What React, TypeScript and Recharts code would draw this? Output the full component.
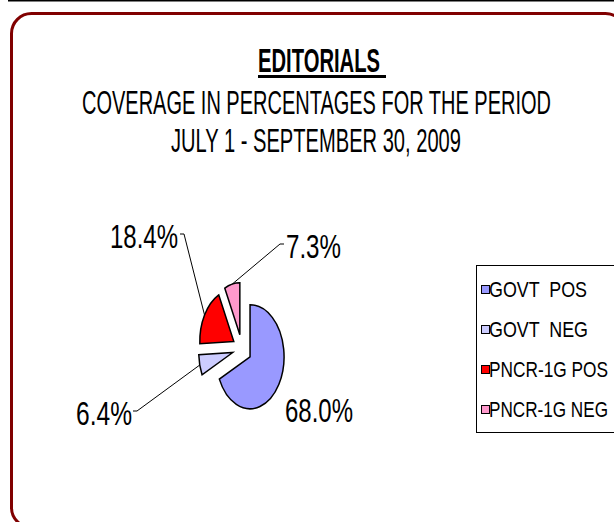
import { Legend, Pie, PieChart } from "recharts";

// slice order follows the reference: starts at 12 o'clock, goes clockwise
const categories = ["GOVT  POS", "GOVT  NEG", "PNCR-1G POS", "PNCR-1G NEG"];
const shares = [68.0, 6.4, 18.4, 7.3];
const sliceColors = ["#9999FF", "#CCCCFF", "#FF0000", "#FF99CC"];

const titleText = "EDITORIALS";
const subtitleLines = [
  "COVERAGE IN PERCENTAGES FOR THE PERIOD",
  "JULY 1 - SEPTEMBER 30, 2009",
];

const data = categories.map((name, i) => ({
  name,
  value: shares[i],
  fill: sliceColors[i],
}));

const W = 614;
const H = 522;
const FONT = "'Liberation Sans Narrow', 'Liberation Sans', Arial, sans-serif";
const RAD = Math.PI / 180;

// the pie is drawn as an ellipse, taller than wide, with every slice pulled out
const PIE_CX = 242;
const PIE_CY = 349;
const PIE_R = 52;
const X_SQUASH = 0.654;
const EXPLODE = 0.28;

// hand placed labels (relative to pie centre), like the dragged Excel labels
const labelLayout = [
  { x: 43, y: 73, w: 68, leader: null },
  { x: -166, y: 76, w: 56, leader: [[-105, 62], [-109, 62]] },
  { x: -132, y: -101, w: 68, leader: [[-58, -115], [-62, -115]] },
  { x: 44, y: -91, w: 55, leader: [[38, -105], [42, -105]] },
];

const legendTextWidth = [98, 99, 119, 119];

function slicePivot(cx: number, cy: number, r: number, mid: number) {
  const rx = r * X_SQUASH;
  return {
    ox: cx + EXPLODE * rx * Math.cos(mid * RAD),
    oy: cy - EXPLODE * r * Math.sin(mid * RAD),
    rx,
    ry: r,
  };
}

function ExplodedSlice(props: any) {
  const { cx, cy, outerRadius, startAngle, endAngle, fill } = props;
  const mid = (startAngle + endAngle) / 2;
  const { ox, oy, rx, ry } = slicePivot(cx, cy, outerRadius, mid);
  const x1 = ox + rx * Math.cos(startAngle * RAD);
  const y1 = oy - ry * Math.sin(startAngle * RAD);
  const x2 = ox + rx * Math.cos(endAngle * RAD);
  const y2 = oy - ry * Math.sin(endAngle * RAD);
  const large = Math.abs(endAngle - startAngle) > 180 ? 1 : 0;
  const sweep = startAngle > endAngle ? 1 : 0;
  return (
    <path
      d={`M${ox},${oy} L${x1},${y1} A${rx},${ry} 0 ${large} ${sweep} ${x2},${y2} Z`}
      fill={fill}
      stroke="#000"
      strokeWidth={1.5}
      strokeLinejoin="miter"
    />
  );
}

function SliceLabel(props: any) {
  const { cx, cy, outerRadius, midAngle, index, value } = props;
  const lay = labelLayout[index];
  if (!lay) return null;
  const { ox, oy, rx, ry } = slicePivot(cx, cy, outerRadius, midAngle);
  const ax = ox + rx * Math.cos(midAngle * RAD);
  const ay = oy - ry * Math.sin(midAngle * RAD);
  return (
    <g>
      {lay.leader && (
        <polyline
          points={[[ax - cx, ay - cy], ...lay.leader]
            .map(([x, y]) => `${cx + x},${cy + y}`)
            .join(" ")}
          fill="none"
          stroke="#000"
          strokeWidth={1}
        />
      )}
      <text
        x={cx + lay.x}
        y={cy + lay.y}
        fontFamily={FONT}
        fontSize={33}
        fill="#000"
        textLength={lay.w}
        lengthAdjust="spacingAndGlyphs"
      >
        {`${Number(value).toFixed(1)}%`}
      </text>
    </g>
  );
}

function LegendBox() {
  // keep the data order (recharts sorts legend payload by name otherwise)
  return (
    <svg width={138} height={170} style={{ display: "block", overflow: "visible" }}>
      <rect x={0.5} y={0.5} width={150} height={167} fill="#fff" stroke="#000" strokeWidth={1} />
      {data.map((it, i) => {
        const base = 32 + i * 40;
        return (
          <g key={it.name}>
            <rect x={5.5} y={base - 11.5} width={8} height={8} fill={it.fill} stroke="#000" strokeWidth={1} />
            <text
              x={13}
              y={base}
              fontFamily={FONT}
              fontSize={22}
              fill="#000"
              textLength={legendTextWidth[i]}
              lengthAdjust="spacingAndGlyphs"
              style={{ whiteSpace: "pre" }}
            >
              {it.name}
            </text>
          </g>
        );
      })}
    </svg>
  );
}

export default function App() {
  return (
    <div style={{ position: "absolute", left: 0, top: 0, width: W, height: H, background: "#fff", overflow: "hidden" }}>
      <PieChart width={W} height={H} margin={{ top: 0, right: 0, bottom: 0, left: 0 }}>
        <rect x={8} y={0} width={606} height={1.5} fill="#000" />
        <rect
          x={11.5}
          y={13.5}
          width={614}
          height={514}
          rx={20}
          ry={20}
          fill="none"
          stroke="#800000"
          strokeWidth={3}
        />
        <text
          x={258}
          y={72}
          fontFamily={FONT}
          fontWeight="bold"
          fontSize={33}
          fill="#000"
          textLength={122}
          lengthAdjust="spacingAndGlyphs"
        >
          {titleText}
        </text>
        <rect x={258} y={75} width={128} height={3} fill="#000" />
        <text
          x={82}
          y={114}
          fontFamily={FONT}
          fontSize={33}
          fill="#000"
          textLength={469}
          lengthAdjust="spacingAndGlyphs"
        >
          {subtitleLines[0]}
        </text>
        <text
          x={171}
          y={152}
          fontFamily={FONT}
          fontSize={33}
          fill="#000"
          textLength={290}
          lengthAdjust="spacingAndGlyphs"
        >
          {subtitleLines[1]}
        </text>
        <Pie
          data={data}
          dataKey="value"
          nameKey="name"
          cx={PIE_CX}
          cy={PIE_CY}
          outerRadius={PIE_R}
          startAngle={90}
          endAngle={-270}
          stroke="#000"
          strokeWidth={1.5}
          isAnimationActive={false}
          labelLine={false}
          label={SliceLabel}
          shape={ExplodedSlice}
          activeShape={ExplodedSlice}
          inactiveShape={ExplodedSlice}
        />
        <Legend
          layout="vertical"
          align="right"
          verticalAlign="top"
          content={LegendBox}
          wrapperStyle={{ left: 476, top: 265, right: "auto", width: 138, height: 170 }}
        />
      </PieChart>
    </div>
  );
}
